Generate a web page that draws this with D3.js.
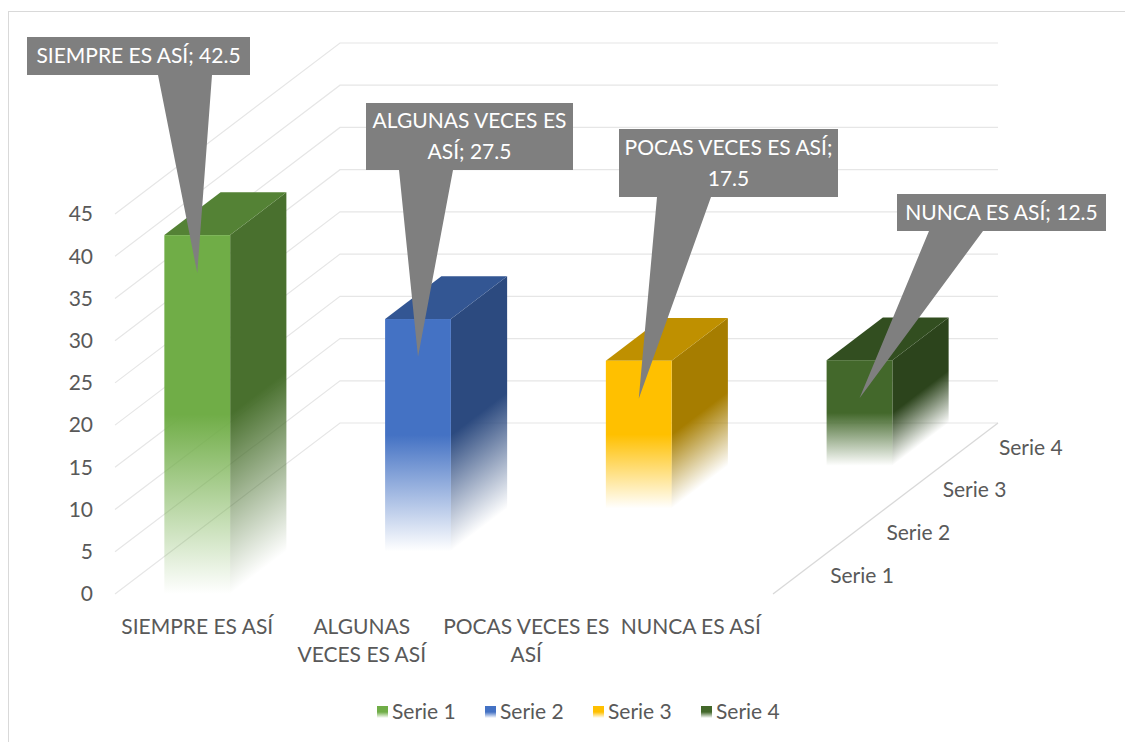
<!DOCTYPE html>
<html>
<head>
<meta charset="utf-8">
<script src="https://cdn.jsdelivr.net/npm/d3@7"></script>
<style>
  body { margin: 0; background: #fff; }
  svg { display: block; font-family: Lato, "Open Sans", sans-serif; }
</style>
</head>
<body>
<svg id="chart" width="1125" height="742"></svg>
<script>
// data
const categories = ["SIEMPRE ES ASÍ", "ALGUNAS VECES ES ASÍ", "POCAS VECES ES ASÍ", "NUNCA ES ASÍ"]
const categoryLines = [["SIEMPRE ES ASÍ"], ["ALGUNAS", "VECES ES ASÍ"], ["POCAS VECES ES", "ASÍ"], ["NUNCA ES ASÍ"]]
const seriesNames = ["Serie 1", "Serie 2", "Serie 3", "Serie 4"]
const seriesValues = [42.5, 27.5, 17.5, 12.5]   // each series has one bar, in its own category
const seriesColors = ["#70AD47", "#4472C4", "#FFC000", "#43682B"]
const yTicks = [0, 5, 10, 15, 20, 25, 30, 35, 40, 45]

// callout layout (box + pointer base), text lines
const calloutText = [["SIEMPRE ES ASÍ; 42.5"], ["ALGUNAS VECES ES", "ASÍ; 27.5"], ["POCAS VECES ES ASÍ;", "17.5"], ["NUNCA ES ASÍ; 12.5"]]
const calloutBoxes = [
    { x: 27, y: 37, w: 223, h: 38, base: 185 },
    { x: 366, y: 103, w: 207, h: 67, base: 426 },
    { x: 619, y: 129, w: 219, h: 68, base: 684 },
    { x: 897, y: 194, w: 209, h: 37, base: 956 }
]

const svg = d3.select("#chart")
const textColor = "#595959"
const gridColor = "#E6E6E6"
const fontSize = 21

// chart frame
svg.append("rect")
    .attr("x", 8.5).attr("y", 11.5)
    .attr("width", 1140).attr("height", 760)
    .attr("fill", "#fff").attr("stroke", "#D9D9D9")

// 3d geometry: front plane + oblique depth vector
const frontLeft = 115, frontRight = 773
const depthDx = 225, depthDy = 171

const x = d3.scaleBand().domain(categories).range([frontLeft, frontRight]).paddingInner(0.6).paddingOuter(0.3)
const xStep = d3.scaleBand().domain(categories).range([frontLeft, frontRight])
const y = d3.scaleLinear().domain([0, 45]).range([594, 214])
const depth = d3.scaleBand().domain(seriesNames).range([0, 1])

const proj = (px, v, d) => [px + d * depthDx, y(v) - d * depthDy]

// walls / gridlines
const grid = svg.append("g")
yTicks.forEach(t => {
    const a = proj(frontLeft, t, 0), b = proj(frontLeft, t, 1), c = proj(frontRight, t, 1)
    grid.append("polyline")
        .attr("points", [a, b, c].map(p => p.join(",")).join(" "))
        .attr("fill", "none").attr("stroke", gridColor).attr("stroke-width", 1.2)
})
// depth axis line
{
    const a = proj(frontRight, 0, 0), b = proj(frontRight, 0, 1)
    grid.append("line")
        .attr("x1", a[0]).attr("y1", a[1]).attr("x2", b[0]).attr("y2", b[1])
        .attr("stroke", "#D9D9D9").attr("stroke-width", 1.3)
}

// y axis labels
svg.append("g").selectAll("text")
    .data(yTicks)
    .enter().append("text")
    .attr("x", 93).attr("y", d => y(d))
    .attr("dy", "0.35em")
    .attr("text-anchor", "end")
    .attr("font-size", fontSize).attr("fill", textColor)
    .text(d => d)

// category labels
const catG = svg.append("g")
categories.forEach((c, i) => {
    const cx = xStep(c) + xStep.bandwidth() / 2
    const t = catG.append("text")
        .attr("text-anchor", "middle").attr("font-size", fontSize).attr("fill", textColor)
    categoryLines[i].forEach((line, j) => {
        t.append("tspan").attr("x", cx).attr("y", 634 + j * 28).text(line)
    })
})

// series (depth) labels
svg.append("g").selectAll("text")
    .data(seriesNames)
    .enter().append("text")
    .attr("x", d => proj(frontRight, 0, depth(d) + depth.bandwidth() / 2)[0] + 29)
    .attr("y", d => proj(frontRight, 0, depth(d) + depth.bandwidth() / 2)[1] + 3)
    .attr("dy", "0.35em")
    .attr("font-size", fontSize).attr("fill", textColor)
    .text(d => d)

// gradients (solid top half, fading toward the floor)
const defs = svg.append("defs")
const shade = (col, k) => {
    const c = d3.rgb(col)
    return d3.rgb(c.r * k, c.g * k, c.b * k).formatHex()
}
function fadeGradient(id, col) {
    const g = defs.append("linearGradient").attr("id", id)
        .attr("x1", 0).attr("y1", 0).attr("x2", 0).attr("y2", 1)
    g.append("stop").attr("offset", 0).attr("stop-color", col).attr("stop-opacity", 1)
    g.append("stop").attr("offset", 0.5).attr("stop-color", col).attr("stop-opacity", 1)
    g.append("stop").attr("offset", 1).attr("stop-color", col).attr("stop-opacity", 0)
}
seriesColors.forEach((col, i) => {
    fadeGradient("front" + i, col)
    fadeGradient("side" + i, shade(col, 0.65))
})

// bars, back to front
const skewAngle = Math.atan2(-depthDy, depthDx) * 180 / Math.PI
const bars = svg.append("g")
const order = d3.range(seriesNames.length).reverse()
order.forEach(i => {
    const cat = categories[i], s = seriesNames[i], v = seriesValues[i]
    const x0 = x(cat), x1 = x(cat) + x.bandwidth()
    const d0 = depth(s), d1 = depth(s) + depth.bandwidth()
    const g = bars.append("g")

    // side face
    const sTop = proj(x1, v, d0)
    g.append("rect")
        .attr("transform", `translate(${sTop[0]},${sTop[1]}) skewY(${skewAngle})`)
        .attr("width", (d1 - d0) * depthDx)
        .attr("height", y(0) - y(v))
        .attr("fill", `url(#side${i})`)

    // top face
    const top = [proj(x0, v, d0), proj(x1, v, d0), proj(x1, v, d1), proj(x0, v, d1)]
    g.append("polygon")
        .attr("points", top.map(p => p.join(",")).join(" "))
        .attr("fill", shade(seriesColors[i], 0.75))

    // front face
    const f = proj(x0, v, d0)
    g.append("rect")
        .attr("x", f[0]).attr("y", f[1])
        .attr("width", x1 - x0)
        .attr("height", y(0) - y(v))
        .attr("fill", `url(#front${i})`)
})

// data callouts
const callouts = svg.append("g")
calloutBoxes.forEach((b, i) => {
    const cat = categories[i], s = seriesNames[i], v = seriesValues[i]
    const tip = proj(x(cat) + x.bandwidth() / 2, v, depth(s))
    tip[1] += 38
    const g = callouts.append("g")
    const bottom = b.y + b.h
    g.append("path")
        .attr("d", `M${b.x},${b.y}H${b.x + b.w}V${bottom}H${b.base + 27}L${tip[0]},${tip[1]}L${b.base - 27},${bottom}H${b.x}Z`)
        .attr("fill", "#7F7F7F")
    const lines = calloutText[i]
    const t = g.append("text")
        .attr("text-anchor", "middle").attr("font-size", fontSize).attr("fill", "#fff")
    lines.forEach((line, j) => {
        t.append("tspan")
            .attr("x", b.x + b.w / 2)
            .attr("y", b.y + b.h / 2 + (j - (lines.length - 1) / 2) * 31)
            .attr("dy", "0.35em")
            .text(line)
    })
})

// legend
const legend = svg.append("g").attr("transform", "translate(377,712)")
seriesNames.forEach((s, i) => {
    const g = legend.append("g").attr("transform", `translate(${i * 108},0)`)
    g.append("rect").attr("x", 0).attr("y", -6).attr("width", 11).attr("height", 12)
        .attr("fill", `url(#front${i})`)
    g.append("text").attr("x", 15).attr("dy", "0.35em")
        .attr("font-size", fontSize).attr("fill", textColor)
        .text(s)
})
</script>
</body>
</html>
